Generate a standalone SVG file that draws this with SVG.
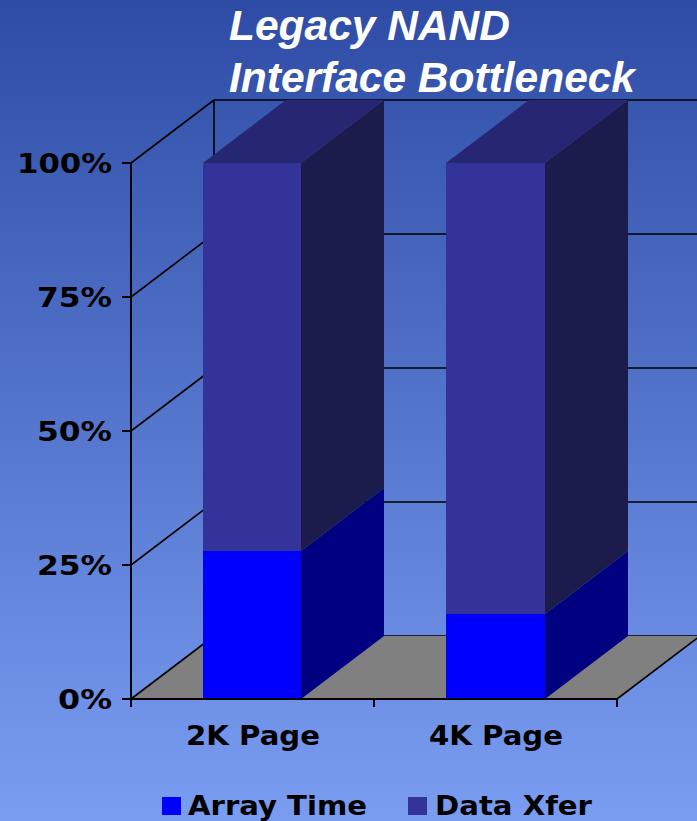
<svg xmlns="http://www.w3.org/2000/svg" width="697" height="821" viewBox="0 0 697 821">
  <defs>
    <linearGradient id="bg" x1="0" y1="0" x2="0" y2="1">
      <stop offset="0" stop-color="#2E4CA5"/>
      <stop offset="1" stop-color="#7A9DF2"/>
    </linearGradient>
    <style>
      .grid { stroke: #000; stroke-width: 1.6; fill: none; }
      .axis { stroke: #000; stroke-width: 2; fill: none; }
      .lbl { font-family: "DejaVu Sans", Verdana, sans-serif; font-weight: bold; fill: #000; }
      .ttl { font-family: "Liberation Sans", Arial, sans-serif; font-weight: bold; font-style: italic; font-size: 42px; fill: #fff; }
      .arrF { fill: #0000FF; }
      .arrS { fill: #000080; }
      .datF { fill: #333399; }
      .datS { fill: #1C1C4C; }
      .datT { fill: #262673; }
    </style>
  </defs>

  <rect width="697" height="821" fill="url(#bg)"/>

  <!-- title -->
  <g id="title">
    <text class="ttl" x="229" y="40" textLength="281" lengthAdjust="spacingAndGlyphs">Legacy NAND</text>
    <text class="ttl" x="229" y="92" textLength="406" lengthAdjust="spacingAndGlyphs">Interface Bottleneck</text>
  </g>

  <!-- back wall and side wall gridlines -->
  <g id="walls">
    <path class="grid" d="M214 100H697M214 234H697M214 368H697M214 502H697M214 636H697"/>
    <path class="grid" d="M214 100V636"/>
    <path class="grid" d="M131 163L214 100M131 297L214 234M131 431L214 368M131 565L214 502"/>
  </g>

  <!-- floor -->
  <g id="floor">
    <polygon points="131,699 617,699 700,636 214,636" fill="#808080"/>
    <path class="grid" d="M131 699L214 636M617 699L700 636"/>
  </g>

  <!-- bar: 2K Page -->
  <g id="bar-2k">
    <rect class="arrF" x="203" y="551" width="98" height="148"/>
    <polygon class="arrS" points="301,551 384,488 384,636 301,699"/>
    <rect class="datF" x="203" y="163" width="98" height="388"/>
    <polygon class="datS" points="301,163 384,100 384,488 301,551"/>
    <polygon class="datT" points="203,163 301,163 384,100 286,100"/>
  </g>

  <!-- bar: 4K Page -->
  <g id="bar-4k">
    <rect class="arrF" x="446" y="614" width="99" height="85"/>
    <polygon class="arrS" points="545,614 628,551 628,636 545,699"/>
    <rect class="datF" x="446" y="163" width="99" height="451"/>
    <polygon class="datS" points="545,163 628,100 628,551 545,614"/>
    <polygon class="datT" points="446,163 545,163 628,100 529,100"/>
  </g>

  <!-- axes with ticks -->
  <g id="axes">
    <path class="axis" d="M131 163V707M131 699H617M374 699V707M617 699V707"/>
    <path class="axis" d="M122 163H131M122 297H131M122 431H131M122 565H131M122 699H131"/>
  </g>

  <g id="y-labels" class="lbl" font-size="26.5" text-anchor="end">
    <text x="112" y="173" textLength="95" lengthAdjust="spacingAndGlyphs">100%</text>
    <text x="112" y="307" textLength="75" lengthAdjust="spacingAndGlyphs">75%</text>
    <text x="112" y="441" textLength="75" lengthAdjust="spacingAndGlyphs">50%</text>
    <text x="112" y="575" textLength="75" lengthAdjust="spacingAndGlyphs">25%</text>
    <text x="112" y="709" textLength="54" lengthAdjust="spacingAndGlyphs">0%</text>
  </g>

  <g id="x-labels" class="lbl" font-size="27">
    <text x="186" y="745" textLength="134" lengthAdjust="spacingAndGlyphs">2K Page</text>
    <text x="429" y="745" textLength="134" lengthAdjust="spacingAndGlyphs">4K Page</text>
  </g>

  <!-- legend -->
  <g id="legend">
    <g id="legend-array">
      <rect class="arrF" x="162" y="797" width="19" height="18"/>
      <text class="lbl" font-size="27" x="188" y="815" textLength="179" lengthAdjust="spacingAndGlyphs">Array Time</text>
    </g>
    <g id="legend-data">
      <rect class="datF" x="408" y="797" width="19" height="18"/>
      <text class="lbl" font-size="27" x="435" y="815" textLength="157" lengthAdjust="spacingAndGlyphs">Data Xfer</text>
    </g>
  </g>
</svg>
